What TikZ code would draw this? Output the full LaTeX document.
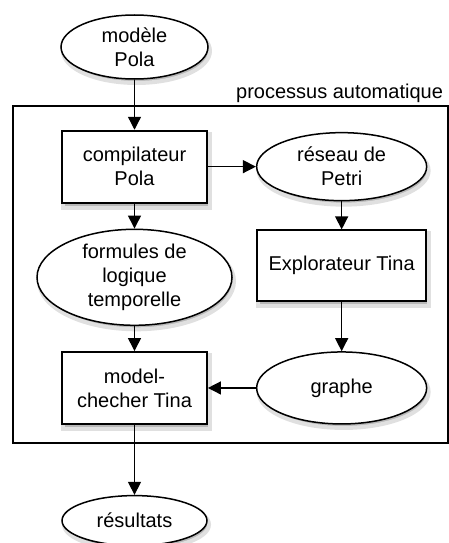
\documentclass[tikz,border=0pt]{standalone}
\usepackage{fontspec}
\setmainfont{Liberation Sans}
\usetikzlibrary{arrows.meta, positioning, shapes.geometric}

\pgfdeclarelayer{fond}
\pgfsetlayers{fond,main}

\begin{document}
\begin{tikzpicture}[
            x = 1pt, y = -1pt, % pixel units, y downwards
            > = {Triangle[length = 13pt, width = 13pt]}, % arrow head style
            font = \fontsize{20}{24}\selectfont,
            every node/.style = {align = center},
            semithick % line style
        ]

        \tikzset{
            outil/.style = {
                draw, line width = 1.8pt, fill = white,
                minimum width = 145pt, minimum height = 72pt
            },
            donnee/.style = {
                ellipse, draw, line width = 1.5pt, fill = white,
                inner sep = 0pt
            },
            ombre/.style = {fill = black!28, draw = black!12, line width = 4pt},
            fleche/.style = {->, line width = 1.3pt}
        }

        \useasboundingbox (0,0) rectangle (449,543);

        % cadre du processus automatique
        \node[draw, line width = 1.1pt, inner sep = 0pt,
            minimum width = 435pt, minimum height = 337pt] (auto) at (230.5,274.5) {};
        \node[anchor = base east] (autolbl) at ([shift = {(-2,-7)}]auto.north east) {processus automatique};

	\node[donnee, minimum width = 147pt, minimum height = 64pt] (modele) at (134.5,47) {modèle\\Pola};
	\node[outil] (compil) [below = 50pt of modele] {compilateur\\Pola};
	\node[donnee, minimum width = 195pt, minimum height = 96pt] (formules) [below = 25pt of compil] {formules de\\logique\\temporelle};
	\node[outil] (checker) [below = 25pt of formules] {model-\\checher Tina};
	\node[donnee, minimum width = 145pt, minimum height = 50pt] (resultats) [below = 70pt of checker] {résultats};
	\node[donnee, minimum width = 170pt, minimum height = 68pt] (petri) [right = 48pt of compil] {réseau de\\Petri};
	\node[outil, minimum width = 169pt, minimum height = 71pt] (explo) [below = 28pt of petri] {Explorateur Tina};
	\node[donnee, minimum width = 170pt, minimum height = 72pt] (graphe) [below = 49pt of explo] {graphe};

        % ombres portees
        \begin{pgfonlayer}{fond}
            \foreach \n in {compil, checker, explo}
                \draw[ombre] ([shift = {(2,4)}]\n.north west) rectangle ([shift = {(2,4)}]\n.south east);
            \foreach \n/\rx/\ry in {modele/73.5/32, formules/97.5/48, resultats/72.5/25, petri/85/34, graphe/85/36}
                \draw[ombre] ([shift = {(2,4)}]\n.center) ellipse [x radius = \rx, y radius = \ry];
        \end{pgfonlayer}

        \draw[fleche] (modele) -- (compil);
        \draw[fleche] (compil) -- (petri);
        \draw[fleche] (compil) -- (formules);
        \draw[fleche] (formules) -- (checker);
        \draw[fleche] (petri) -- (explo);
        \draw[fleche] (explo) -- (graphe);
        \draw[fleche] (graphe) -- (checker);
        \draw[fleche] (checker) -- (resultats);

    \end{tikzpicture}
\end{document}
